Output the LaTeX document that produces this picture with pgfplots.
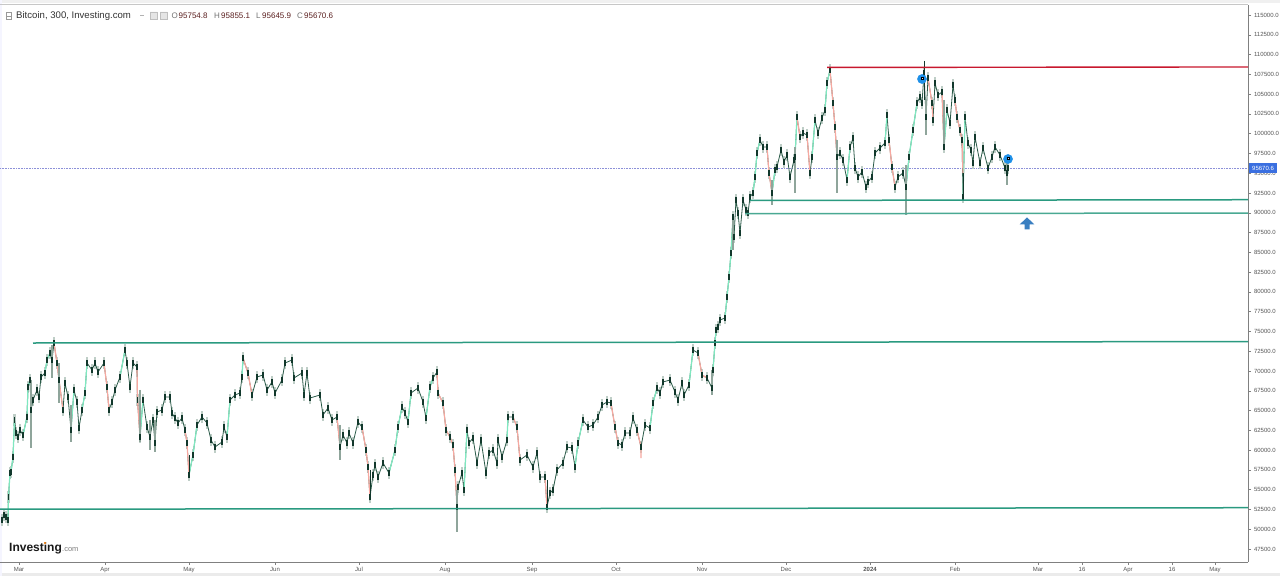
\documentclass[border=0pt]{standalone}
\usepackage{pgfplots}
\usepackage{pgfplotstable}
\usepackage{fontspec}
\setmainfont{Liberation Sans}
\pgfplotsset{compat=1.18}
\definecolor{gline}{HTML}{2A9A80}
\definecolor{rline}{HTML}{C8182E}
\definecolor{upc}{HTML}{7FE8C0}
\definecolor{dnc}{HTML}{F7A8A0}
\definecolor{wick}{HTML}{12382C}
\definecolor{darkpath}{HTML}{2A5A48}
\definecolor{halo}{HTML}{BFCEC7}
\definecolor{spike}{HTML}{8FA59B}
\definecolor{flag}{HTML}{1E90E8}
\definecolor{arrowc}{HTML}{3A7FC1}
\definecolor{ohlc}{HTML}{5A1E1E}
\definecolor{axc}{HTML}{808080}
\definecolor{txt}{HTML}{555555}
\definecolor{lastp}{HTML}{8C90D8}
\definecolor{tag}{HTML}{3A6FE0}
\pgfplotstableread{
x c
2 51168
4 51800
6 51547
8 51168
8.5 54075
10 57109
11 57235
13 59131
14.5 63808
16 62165
18 61659
20 62544
23 61912
27 64187
28 67979
30 68864
31 65072
33 66336
37 67600
39 66715
41 69243
45 69749
47 71392
50 72277
52 71392
54 73541
57 71012
59 68864
63 65072
65 68483
68 66715
71 62544
74 67600
77 66083
79 62797
82 65072
85 67221
87 71012
92 70128
95 71012
98 69875
104 71012
107 67979
109 65072
112 66083
115 67600
120 69243
125 72656
127 71012
130 67979
133 71012
137 70507
137.5 66336
140 61659
143 66336
147 62923
150 61659
153 63808
155 60901
157 64819
162 65072
165 66715
170 66715
172 64693
175 64061
178 63429
182 64061
185 62544
187 60901
189 56856
193 59405
197 63176
202 64187
207 63429
211 61280
215 60395
222 61027
224 62923
227 61659
230 66336
235 66968
240 67221
242 69243
243 71645
248 69749
252 66968
257 69243
263 69496
267 67600
272 68611
275 67221
282 68864
285 71012
292 71392
294 69117
302 69749
304 66968
307 69749
310 66589
320 66968
323 64440
328 65323
332 63808
337 64187
340 60395
343 61912
347 60901
349 62165
353 60901
358 63557
362 62923
366 60016
368 57867
370 54075
373 56856
375 58120
378 56603
383 58373
389 57109
395 60016
398 62923
402 65451
405 64693
408 63557
411 67221
418 67853
423 66083
426 64061
430 67979
433 69117
437 69875
438 67221
443 65957
446 62544
450 61659
453 60651
455 57488
457 52811
458 55339
462 57109
464 54960
467 62544
469 60901
473 61533
477 58373
481 61280
486 57109
489 59637
493 60016
497 58373
498 61280
502 59131
507 61280
508 64187
513 64187
517 62923
520 58752
527 59387
533 57867
537 59637
540 56603
545 56603
547 52811
550 54581
553 54960
557 57488
563 58373
567 60395
572 60269
575 57867
578 60901
583 63808
588 62923
593 63176
598 64187
602 65704
607 66083
611 65957
615 62923
618 60901
622 60651
625 62165
630 62165
633 64061
637 62544
641 60395
645 63176
650 62797
653 65957
657 67853
660 67221
663 68611
670 68864
675 67347
678 66336
682 68483
684 66968
689 68232
693 72656
698 72277
702 69496
707 69117
712 67853
713 70128
715 73541
716 75184
718 75563
720 76448
725 76701
727 79355
729 81883
731 84917
733 89467
734 86939
736 91616
738 89973
740 87445
743 91616
746 90352
748 89973
750 91995
753 92501
755 94523
757 97557
760 99200
763 98315
767 98315
769 95029
772 92501
775 95408
777 95787
781 97936
784 96419
787 97304
790 94523
794 96672
795 97051
797 102107
800 99579
803 100085
807 99832
810 95029
812 97051
815 101728
818 100085
822 101981
825 102992
827 106405
830 108048
833 103877
835 100843
837 97051
840 97557
843 96672
847 94144
850 98315
853 99453
855 95661
858 94523
862 95155
866 93259
868 93891
872 94523
875 97557
880 98189
885 98821
887 102360
889 99200
892 95787
895 93259
898 94523
903 95029
906 93259
909 97051
913 100464
917 103877
920 104635
922 103877
924 107669
926 102107
928 107037
932 103877
933 101728
935 106405
938 104888
942 105267
944 98315
947 102992
950 101349
953 106152
955 104256
957 102107
960 100464
962 99200
963 91995
965 102107
968 98821
971 97936
973 96293
975 99579
980 96293
983 98189
988 95661
992 97051
995 98315
1000 97304
1005 95661
1007 95029
1008 95661
}\pricetable
\begin{document}
\begin{tikzpicture}[x=1pt,y=1pt]
\path[use as bounding box] (0,0) rectangle (1280,576);
\fill[white] (0,0) rectangle (1280,576);
\fill[black!6] (0,572.5) rectangle (1280,576);
\fill[black!8] (0,0) rectangle (1280,3);
\fill[blue!4] (0,0) rectangle (2,576);
\begin{axis}[
  at={(0pt,14pt)}, anchor=south west,
  scale only axis, width=1248pt, height=557pt,
  xmin=0, xmax=1248, ymin=45859, ymax=116264,
  unbounded coords=jump,
  axis x line*=bottom, axis y line*=right,
  axis line style={axc,line width=0.9pt,-},
  clip=true,
  xtick={19,105,189,275,359,445,532,616,702,786,870,955,1038,1082,1128,1172,1215},
  xticklabels={Mar,Apr,May,Jun,Jul,Aug,Sep,Oct,Nov,Dec,\textbf{2024},Feb,Mar,16,Apr,16,May},
  ytick={47500,50000,52500,55000,57500,60000,62500,65000,67500,70000,72500,75000,77500,80000,82500,85000,87500,90000,92500,95000,97500,100000,102500,105000,107500,110000,112500,115000},
  yticklabel style={/pgf/number format/fixed,/pgf/number format/fixed zerofill,/pgf/number format/precision=1,/pgf/number format/1000 sep={},/pgf/number format/assume math mode=true,xshift=-0.5pt},
  scaled y ticks=false,
  tick label style={font=\fontsize{6}{7}\selectfont,text=txt},
  xticklabel style={yshift=1.5pt},
  tick style={axc,line width=0.5pt},
  major tick length=3pt,
  tick align=outside,
]
% last-price line
\addplot[draw=lastp,line width=0.6pt,densely dotted,forget plot] coordinates {(0,95670)(1248,95670)};
% halo of the candles
\addplot[draw=none,forget plot,
  error bars/.cd,y dir=both,y fixed=800,error mark=none,
  error bar style={draw=halo,line width=2.4pt}] table[x=x,y=c] {\pricetable};
% price path, dark in the small moves
\addplot[draw=darkpath,line width=0.8pt,forget plot] table[x=x,y=c] {\pricetable};
% long rising candles
\addplot[draw=upc,line width=1.2pt,forget plot] coordinates {
(8,51168)(8.5,54075)(10,57109)(10,nan)
(11,57235)(13,59131)(14.5,63808)(14.5,nan)
(23,61912)(27,64187)(28,67979)(30,68864)(30,nan)
(45,69749)(47,71392)(50,72277)(50,nan)
(71,62544)(74,67600)(74,nan)
(82,65072)(85,67221)(87,71012)(87,nan)
(120,69243)(125,72656)(125,nan)
(140,61659)(143,66336)(143,nan)
(189,56856)(193,59405)(197,63176)(197,nan)
(227,61659)(230,66336)(230,nan)
(242,69243)(243,71645)(243,nan)
(389,57109)(395,60016)(398,62923)(402,65451)(402,nan)
(408,63557)(411,67221)(411,nan)
(426,64061)(430,67979)(433,69117)(433,nan)
(464,54960)(467,62544)(467,nan)
(507,61280)(508,64187)(508,nan)
(575,57867)(578,60901)(583,63808)(583,nan)
(650,62797)(653,65957)(657,67853)(657,nan)
(689,68232)(693,72656)(693,nan)
(713,70128)(715,73541)(716,75184)(716,nan)
(725,76701)(727,79355)(729,81883)(731,84917)(733,89467)(733,nan)
(753,92501)(755,94523)(757,97557)(760,99200)(760,nan)
(772,92501)(775,95408)(775,nan)
(795,97051)(797,102107)(797,nan)
(812,97051)(815,101728)(815,nan)
(825,102992)(827,106405)(830,108048)(830,nan)
(847,94144)(850,98315)(850,nan)
(885,98821)(887,102360)(887,nan)
(906,93259)(909,97051)(913,100464)(917,103877)(917,nan)
(944,98315)(947,102992)(947,nan)
(963,91995)(965,102107)
};
% long falling candles
\addplot[draw=dnc,line width=1.2pt,forget plot] coordinates {
(54,73541)(57,71012)(59,68864)(63,65072)(63,nan)
(104,71012)(107,67979)(109,65072)(109,nan)
(137,70507)(137.5,66336)(140,61659)(140,nan)
(185,62544)(187,60901)(189,56856)(189,nan)
(243,71645)(248,69749)(252,66968)(252,nan)
(337,64187)(340,60395)(340,nan)
(362,62923)(366,60016)(368,57867)(370,54075)(370,nan)
(437,69875)(438,67221)(443,65957)(446,62544)(450,61659)(453,60651)(455,57488)(457,52811)(457,nan)
(513,64187)(517,62923)(520,58752)(520,nan)
(545,56603)(547,52811)(547,nan)
(611,65957)(615,62923)(618,60901)(618,nan)
(637,62544)(641,60395)(641,58999)(641,nan)
(698,72277)(702,69496)(707,69117)(707,nan)
(767,98315)(769,95029)(772,92501)(772,nan)
(797,102107)(800,99579)(800,nan)
(807,99832)(810,95029)(810,nan)
(830,108048)(833,103877)(835,100843)(837,97051)(837,nan)
(889,99200)(892,95787)(895,93259)(895,nan)
(928,107037)(932,103877)(933,101728)(933,nan)
(942,105267)(944,98315)(944,nan)
(955,104256)(957,102107)(960,100464)(962,99200)(963,95000)
};
% grey spikes
\addplot[draw=spike,line width=1.3pt,forget plot] coordinates {
(31,68864)(31,60269)(31,nan)
(52,73288)(52,69091)(52,nan)
(59,71012)(59,65957)(59,nan)
(71,65704)(71,61027)(71,nan)
(140,67600)(140,61027)(140,nan)
(150,63808)(150,60016)(150,nan)
(155,63808)(155,59763)(155,nan)
(340,63176)(340,58752)(340,nan)
(712,70128)(712,66968)(712,nan)
(733,89467)(733,85296)(733,nan)
(772,94144)(772,90985)(772,nan)
(795,98315)(795,92501)(795,nan)
(837,99200)(837,92501)(837,nan)
(906,96040)(906,89720)(906,nan)
(926,104256)(926,99832)(926,nan)
(944,104256)(944,97936)(944,nan)
(1007,96672)(1007,93512)
};
\addplot[draw=spike,line width=2pt,forget plot] coordinates {(457,54960)(457,49650)};
% dark wicks
\addplot[draw=none,forget plot,
  error bars/.cd,y dir=both,y fixed=400,error mark=none,
  error bar style={draw=wick,line width=1.1pt}] table[x=x,y=c] {\pricetable};
\addplot[draw=wick,line width=0.9pt,forget plot] coordinates {
(189,59405)(189,56603)(189,nan)
(370,57488)(370,53949)(370,nan)
(547,56224)(547,52685)(547,nan)
(924,109186)(924,104256)(924,nan)
(963,95000)(963,91742)
};
% support / resistance lines
\addplot[draw=gline,line width=1.5pt,forget plot] coordinates {(33,73540)(1248,73720)};
\addplot[draw=gline,line width=1.5pt,forget plot] coordinates {(0,52530)(1248,52720)};
\addplot[draw=gline,line width=1.5pt,forget plot] coordinates {(750,91560)(1248,91650)};
\addplot[draw=gline!85!white,line width=1.5pt,forget plot] coordinates {(745,89880)(1248,89970)};
\addplot[draw=rline,line width=1.4pt,forget plot] coordinates {(827,108370)(1248,108430)};
% event flags
\addplot[only marks,mark=*,mark size=4.6pt,mark options={fill=flag,draw=flag},forget plot] coordinates {(922,106910)(1008,96798)};
\addplot[only marks,mark=square*,mark size=1pt,mark options={fill=white!75!flag,draw=none},forget plot] coordinates {(922,107000)(1008,96900)};
\end{axis}
% top frame line
\draw[black!22,line width=0.8pt] (0,571.5) -- (1248,571.5);
% price tag
\fill[tag] (1249,402.5) rectangle (1277,413);
\node[anchor=center,text=white,font=\fontsize{6}{7}\selectfont] at (1263,407.7) {95670.6};
% header
\node[anchor=base west,inner sep=0,text=black!80,font=\fontsize{9.6}{11}\selectfont] at (16,557.5) {Bitcoin, 300, Investing.com};
\draw[black!40,line width=0.5pt] (6.5,556.5) rectangle (11.5,564) (6.5,560.2) -- (11,560.2);
\draw[black!30,line width=0.6pt] (140,560.5) -- (144,560.5);
\draw[black!25,fill=black!10,line width=0.4pt] (150,557) rectangle (157,564) (160,557) rectangle (167,564);
\node[anchor=base west,inner sep=0,text=black!55,font=\fontsize{8}{10}\selectfont] at (171.5,557.7) {O};
\node[anchor=base west,inner sep=0,text=ohlc,font=\fontsize{8}{10}\selectfont] at (178.5,557.7) {95754.8};
\node[anchor=base west,inner sep=0,text=black!55,font=\fontsize{8}{10}\selectfont] at (214,557.7) {H};
\node[anchor=base west,inner sep=0,text=ohlc,font=\fontsize{8}{10}\selectfont] at (221,557.7) {95855.1};
\node[anchor=base west,inner sep=0,text=black!55,font=\fontsize{8}{10}\selectfont] at (256,557.7) {L};
\node[anchor=base west,inner sep=0,text=ohlc,font=\fontsize{8}{10}\selectfont] at (262,557.7) {95645.9};
\node[anchor=base west,inner sep=0,text=black!55,font=\fontsize{8}{10}\selectfont] at (297,557.7) {C};
\node[anchor=base west,inner sep=0,text=ohlc,font=\fontsize{8}{10}\selectfont] at (304,557.7) {95670.6};
% logo
\node[anchor=base west,inner sep=0,text=black!90,font=\fontsize{12}{14}\selectfont\bfseries] at (9,24.3) {Investing};
\node[anchor=base west,inner sep=0,text=black!50,font=\fontsize{7.5}{9}\selectfont] at (62,24.3) {.com};
\fill[orange] (45,33) circle (1.1);
% arrow
\fill[arrowc] (1027,358.7) -- (1034.3,351.5) -- (1029.5,351.5) -- (1029.5,346.7) -- (1024.5,346.7) -- (1024.5,351.5) -- (1019.7,351.5) -- cycle;
\end{tikzpicture}
\end{document}
